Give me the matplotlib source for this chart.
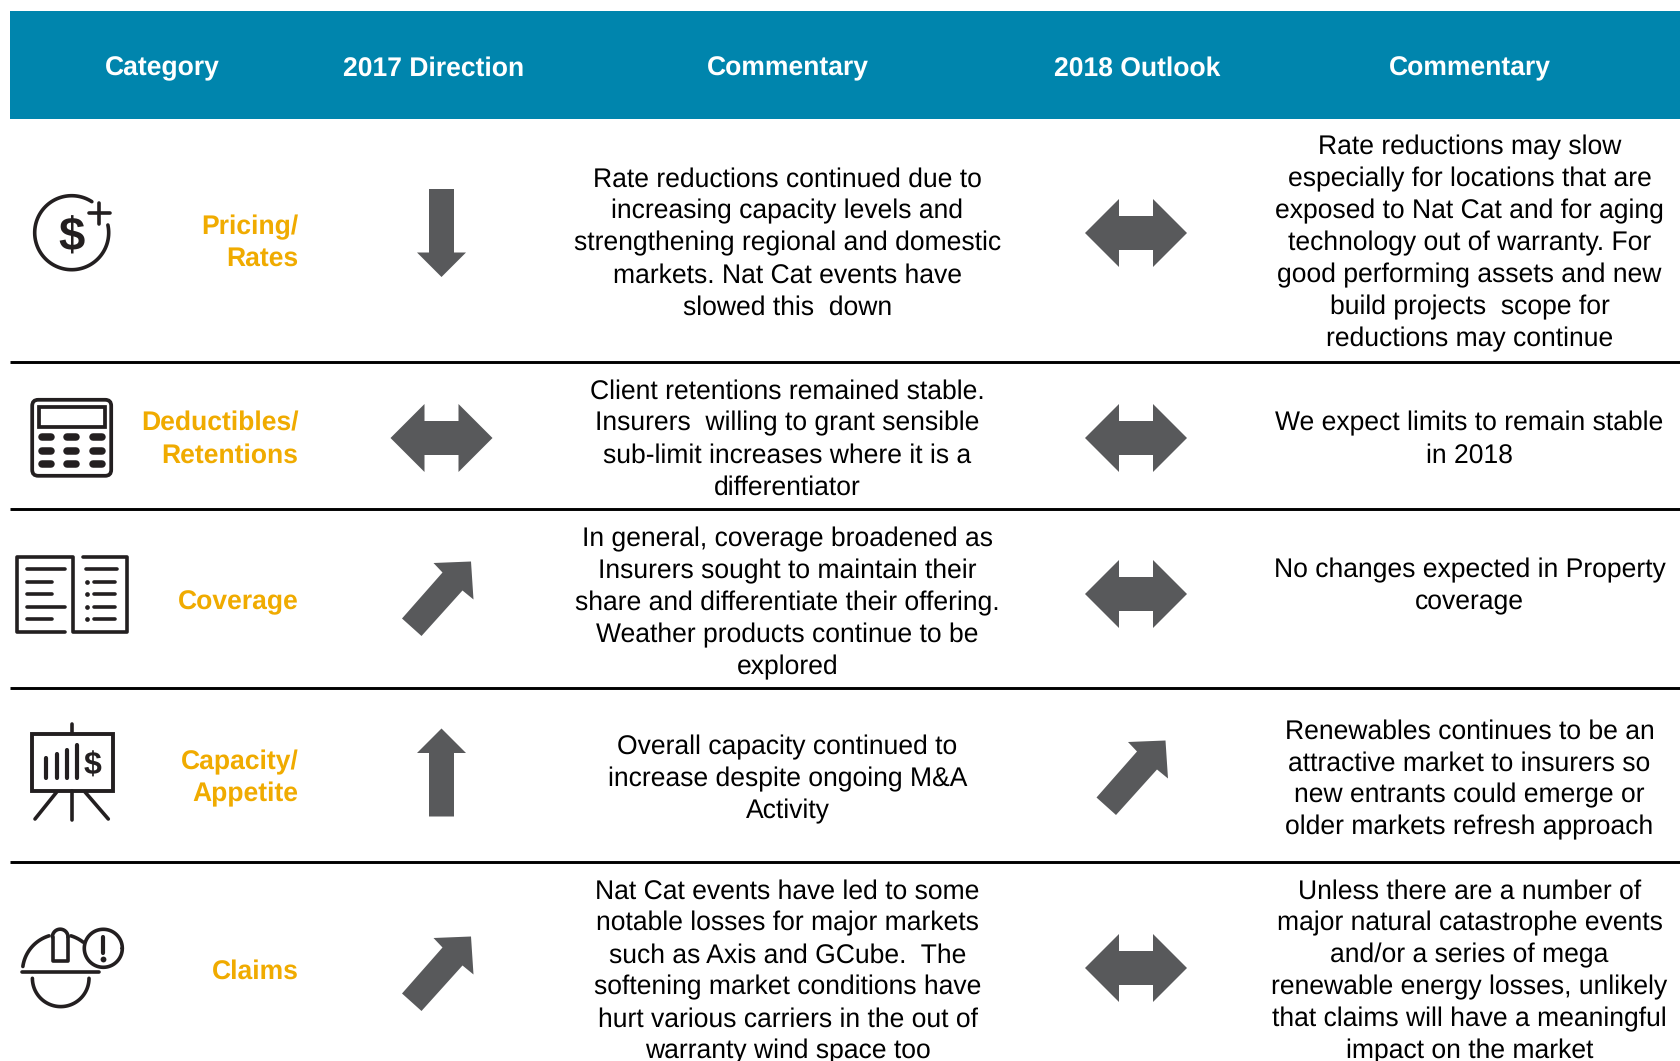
"""Insurance market outlook table, drawn in pixel coordinates."""

import matplotlib

matplotlib.use("Agg")
import matplotlib.pyplot as plt
import numpy as np
from matplotlib.patches import FancyBboxPatch, Polygon, Rectangle

plt.rcParams["font.family"] = ["Liberation Sans", "DejaVu Sans"]
plt.rcParams["text.hinting"] = "none"

WIDTH, HEIGHT = 1680, 1061

headers = ["Category", "2017 Direction", "Commentary", "2018 Outlook", "Commentary"]
categories = [
    ["Pricing/", "Rates"],
    ["Deductibles/", "Retentions"],
    ["Coverage"],
    ["Capacity/", "Appetite"],
    ["Claims"],
]
direction_2017 = ["down", "both", "upright", "up", "upright"]
outlook_2018 = ["both", "both", "both", "upright", "both"]
commentary_2017 = [
    ["Rate reductions continued due to", "increasing capacity levels and",
     "strengthening regional and domestic", "markets. Nat Cat events have",
     "slowed this  down"],
    ["Client retentions remained stable.", "Insurers  willing to grant sensible",
     "sub-limit increases where it is a", "differentiator"],
    ["In general, coverage broadened as", "Insurers sought to maintain their",
     "share and differentiate their offering.", "Weather products continue to be",
     "explored"],
    ["Overall capacity continued to", "increase despite ongoing M&A", "Activity"],
    ["Nat Cat events have led to some", "notable losses for major markets",
     "such as Axis and GCube.  The", "softening market conditions have",
     "hurt various carriers in the out of", "warranty wind space too"],
]
commentary_2018 = [
    ["Rate reductions may slow", "especially for locations that are",
     "exposed to Nat Cat and for aging", "technology out of warranty. For",
     "good performing assets and new", "build projects  scope for",
     "reductions may continue"],
    ["We expect limits to remain stable", "in 2018"],
    ["No changes expected in Property", "coverage"],
    ["Renewables continues to be an", "attractive market to insurers so",
     "new entrants could emerge or", "older markets refresh approach"],
    ["Unless there are a number of", "major natural catastrophe events",
     "and/or a series of mega", "renewable energy losses, unlikely",
     "that claims will have a meaningful", "impact on the market"],
]

# layout, in reference pixels
header_x = [162, 433.5, 787.5, 1137.5, 1469.5]
label_right = 298.5
arrow_x_2017, arrow_x_2018 = 441.5, 1136
arrow_y_2017 = [233, 438, 599, 772.5, 974]
arrow_y_2018 = [233, 438, 594, 778, 968]
label_y = [240, 437, 599.5, 776, 968.5]
comment_y_2017 = [241, 437, 600.5, 777, 969]
comment_y_2018 = [241, 437, 584, 777, 969]
rule_y = [362, 509, 688, 862]
LINE_PITCH = 32

HEADER_BLUE = "#0085AD"
LABEL_GOLD = "#F0AB00"
ARROW_GREY = "#58595B"
ICON_INK = "#231F20"
BODY_PT = 19.1
ICON_LW = 2.6

ARROWS = {
    "down": [(-12.5, -44), (12.5, -44), (12.5, 19.5), (24.5, 19.5), (0, 44),
             (-24.5, 19.5), (-12.5, 19.5)],
    "up": [(-12.5, 44), (12.5, 44), (12.5, -19.5), (24.5, -19.5), (0, -44),
           (-24.5, -19.5), (-12.5, -19.5)],
    "both": [(-51, 0), (-17, -34), (-17, -17), (17, -17), (17, -34), (51, 0),
             (17, 34), (17, 17), (-17, 17), (-17, 34)],
    "upright": [(29.5, -37.5), (-8, -36), (1, -26.5), (-39.5, 19.5), (-20, 37),
                (21, -8.5), (32, 0.5)],
}


def stroke(ax, xs, ys, lw=ICON_LW):
    ax.plot(xs, ys, color=ICON_INK, lw=lw, solid_capstyle="round",
            solid_joinstyle="round")


def dot(ax, x, y, size=3.4):
    ax.plot([x], [y], "o", color=ICON_INK, ms=size, mew=0)


def arc(ax, cx, cy, r, start, end, lw=ICON_LW):
    # angles in degrees, counter-clockwise on screen
    t = np.radians(np.linspace(start, end, 120))
    stroke(ax, cx + r * np.cos(t), cy - r * np.sin(t), lw)


def draw_arrow(ax, kind, x, y):
    pts = [(x + dx, y + dy) for dx, dy in ARROWS[kind]]
    ax.add_patch(Polygon(pts, closed=True, facecolor=ARROW_GREY, edgecolor="none"))


def draw_dollar_icon(ax):
    arc(ax, 71.7, 232.7, 37, 57, 372)
    stroke(ax, [89, 109.5], [213.3, 213.3])
    stroke(ax, [99.3, 99.3], [203, 223.5])
    ax.text(71.7, 233, "$", ha="center", va="center_baseline", fontsize=34,
            fontweight="bold", color=ICON_INK)


def draw_calculator_icon(ax):
    ax.add_patch(FancyBboxPatch((32.2, 399.8), 79, 76, boxstyle="round,pad=0,rounding_size=6",
                                fill=False, edgecolor=ICON_INK, lw=2.7))
    ax.add_patch(Rectangle((38.5, 407), 66, 19.5, fill=False, edgecolor=ICON_INK, lw=2.7))
    for y in [437.3, 450.7, 463.7]:
        for x in [46, 71.7, 97.3]:
            stroke(ax, [x - 4.5, x + 4.5], [y, y], lw=5.4)


def draw_book_icon(ax):
    stroke(ax, [64.5, 16.5, 16.5, 72.7, 72.7, 127, 127, 83.3],
           [632, 632, 556.5, 556.5, 632, 632, 556.5, 556.5])
    for y, end in zip([569, 581.7, 594.3, 606.7, 619], [64.5, 52, 52, 64.5, 52]):
        stroke(ax, [26.5, end], [y, y])
    stroke(ax, [86, 116.5], [569, 569])
    for y in [581.7, 594.3, 606.7, 619]:
        dot(ax, 86.7, y)
        stroke(ax, [93.8, 114.8], [y, y])


def draw_easel_icon(ax):
    ax.add_patch(Rectangle((31.5, 733.8), 81.5, 56.9, fill=False, edgecolor=ICON_INK, lw=2.8))
    stroke(ax, [71.7, 71.7], [724, 733.3])
    for x, top in zip([45.7, 56.7, 66.7, 76.7], [758.3, 754, 750, 745]):
        stroke(ax, [x, x], [top, 777.5], lw=3.0)
    ax.text(92.7, 763.5, "$", ha="center", va="center_baseline", fontsize=23,
            fontweight="bold", color=ICON_INK)
    stroke(ax, [71.7, 71.7], [791, 819.5])
    stroke(ax, [56.7, 35], [792, 819])
    stroke(ax, [85, 108.3], [792, 819])


def draw_helmet_icon(ax):
    arc(ax, 60, 971.7, 37.5, 107, 172)
    arc(ax, 60, 971.7, 37.5, 52, 73)
    stroke(ax, [22, 98.7], [971.7, 971.7])
    stroke(ax, [52.5, 52.5, 68, 68], [937, 960.7, 960.7, 937])
    arc(ax, 60.2, 937, 7.8, 0, 180)
    arc(ax, 103.3, 948.3, 19, 0, 360)
    stroke(ax, [103.3, 103.3], [936.5, 952.5], lw=3.0)
    dot(ax, 103.3, 959, size=4.2)
    arc(ax, 60.7, 978.3, 28.3, 180, 360)


def text_block(ax, lines, x, centre_y, ha="center", **kwargs):
    top = centre_y - (len(lines) - 1) * LINE_PITCH / 2
    for i, line in enumerate(lines):
        ax.text(x, top + i * LINE_PITCH, line, ha=ha, va="center_baseline",
                fontsize=BODY_PT, **kwargs)


def main():
    fig = plt.figure(figsize=(WIDTH / 100, HEIGHT / 100), dpi=100, facecolor="white")
    ax = fig.add_axes([0, 0, 1, 1])
    ax.set_xlim(0, WIDTH)
    ax.set_ylim(HEIGHT, 0)
    ax.axis("off")

    ax.add_patch(Rectangle((10, 11), WIDTH - 10, 108, facecolor=HEADER_BLUE, edgecolor="none"))
    for x, label in zip(header_x, headers):
        ax.text(x, 65.5, label, ha="center", va="center_baseline", fontsize=BODY_PT,
                fontweight="bold", color="white")

    for y in rule_y:
        ax.plot([10, WIDTH], [y, y], color="black", lw=2.1, solid_capstyle="butt")

    for i, lines in enumerate(categories):
        text_block(ax, lines, label_right, label_y[i], ha="right",
                   fontweight="bold", color=LABEL_GOLD)
        draw_arrow(ax, direction_2017[i], arrow_x_2017, arrow_y_2017[i])
        draw_arrow(ax, outlook_2018[i], arrow_x_2018, arrow_y_2018[i])
        text_block(ax, commentary_2017[i], 787.5, comment_y_2017[i], color="black")
        text_block(ax, commentary_2018[i], 1469.5, comment_y_2018[i], color="black")

    draw_dollar_icon(ax)
    draw_calculator_icon(ax)
    draw_book_icon(ax)
    draw_easel_icon(ax)
    draw_helmet_icon(ax)

    fig.savefig("out.png", dpi=100)


if __name__ == "__main__":
    main()
